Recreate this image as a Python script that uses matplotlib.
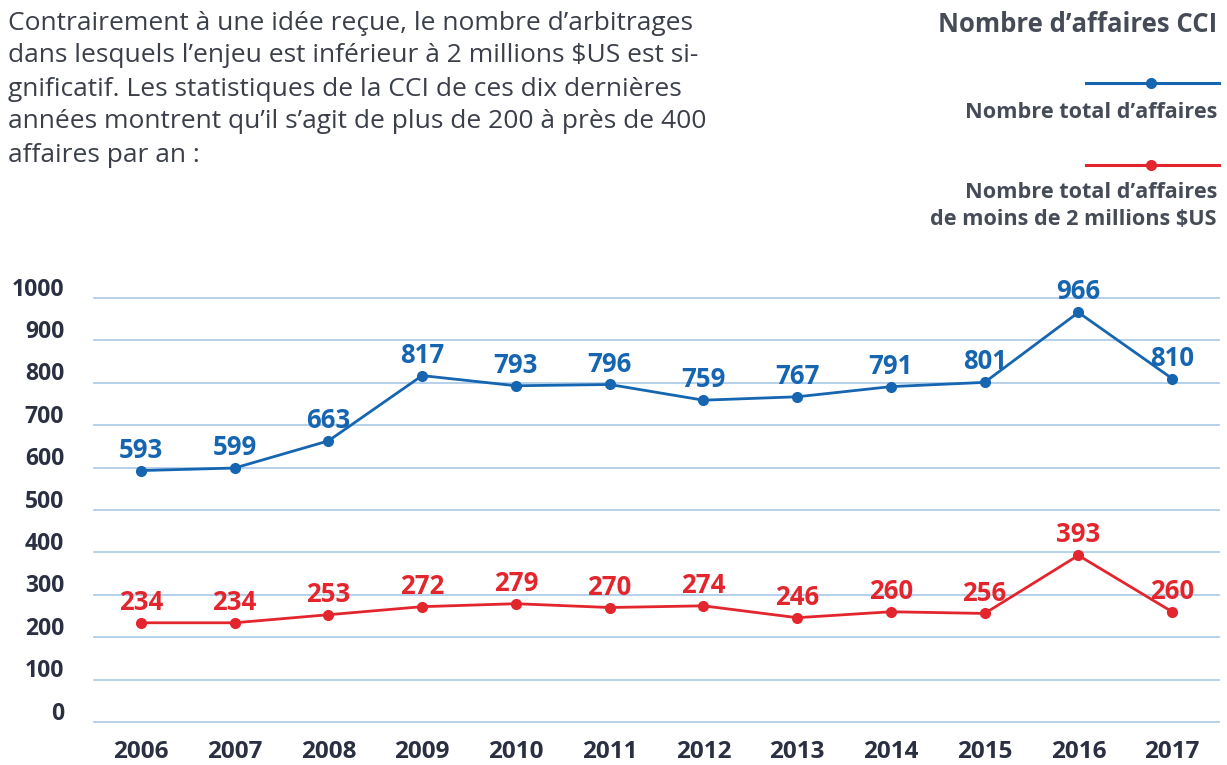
import matplotlib.pyplot as plt
from matplotlib.lines import Line2D
from matplotlib.transforms import blended_transform_factory

# data
years = ['2006', '2007', '2008', '2009', '2010', '2011', '2012', '2013', '2014', '2015', '2016', '2017']
total_cases = [593, 599, 663, 817, 793, 796, 759, 767, 791, 801, 966, 810]
small_cases = [234, 234, 253, 272, 279, 270, 274, 246, 260, 256, 393, 260]
y_ticks = [0, 100, 200, 300, 400, 500, 600, 700, 800, 900, 1000]

intro_lines = [
    "Contrairement à une idée reçue, le nombre d’arbitrages",
    "dans lesquels l’enjeu est inférieur à 2 millions $US est si-",
    "gnificatif. Les statistiques de la CCI de ces dix dernières",
    "années montrent qu’il s’agit de plus de 200 à près de 400",
    "affaires par an :",
]
legend_title = "Nombre d’affaires CCI"
legend_total = "Nombre total d’affaires"
legend_small = "Nombre total d’affaires\nde moins de 2 millions $US"

BLUE = '#1565b0'
RED = '#e3262d'
GRID = '#a9c8e6'
DARK = '#2a3042'
GREY = '#454b57'

plt.rcParams['font.family'] = ['Open Sans', 'DejaVu Sans']

W, H = 1227, 765
fig = plt.figure(figsize=(W / 100, H / 100), dpi=100)
fig.patch.set_facecolor('white')

ax = fig.add_axes([94 / W, 43 / H, 1125 / W, (722 - 298) / H])
x = list(range(len(years)))
ax.set_xlim(-0.5, len(years) - 0.5)
ax.set_ylim(0, 1000)

for v in y_ticks:
    ax.axhline(v, color=GRID, lw=1.2, zorder=1, clip_on=False)

ax.plot(x, total_cases, color=BLUE, lw=2, marker='o', ms=7, zorder=3, clip_on=False)
ax.plot(x, small_cases, color=RED, lw=2, marker='o', ms=7, zorder=3, clip_on=False)

for xi, v in zip(x, total_cases):
    ax.annotate(str(v), (xi, v), xytext=(0, 5), textcoords='offset points',
                ha='center', va='bottom', fontsize=18.5, fontweight='bold', color=BLUE)
for xi, v in zip(x, small_cases):
    ax.annotate(str(v), (xi, v), xytext=(0, 5), textcoords='offset points',
                ha='center', va='bottom', fontsize=18.5, fontweight='bold', color=RED)

ax.set_xticks([])
ax.set_yticks([])
for s in ax.spines.values():
    s.set_visible(False)

trans = blended_transform_factory(ax.transAxes, ax.transData)
for v in y_ticks:
    ax.text(-30 / 1125, v + 20, str(v), transform=trans, ha='right', va='center',
            fontsize=16.5, fontweight='bold', color=DARK)

trans_x = blended_transform_factory(ax.transData, fig.transFigure)
for xi, yr in zip(x, years):
    ax.text(xi, 1 - 752 / H, yr, transform=trans_x, ha='center', va='center',
            fontsize=17.5, fontweight='bold', color=DARK)

# intro paragraph
for i, line in enumerate(intro_lines):
    fig.text(8 / W, 1 - (23 + i * 33) / H, line, ha='left', va='center',
             fontsize=19, color='#3a3f4a')

# legend block, top right
fig.text(1217 / W, 1 - 25 / H, legend_title, ha='right', va='center',
         fontsize=18.5, fontweight='bold', color=GREY)
fig.add_artist(Line2D([1086 / W, 1219 / W], [1 - 83 / H] * 2, color=BLUE, lw=2.2))
fig.add_artist(Line2D([1151 / W], [1 - 83 / H], color=BLUE, marker='o', ms=7))
fig.text(1217 / W, 1 - 112 / H, legend_total, ha='right', va='center',
         fontsize=15.6, fontweight='bold', color=GREY)
fig.add_artist(Line2D([1086 / W, 1219 / W], [1 - 165 / H] * 2, color=RED, lw=2.2))
fig.add_artist(Line2D([1151 / W], [1 - 165 / H], color=RED, marker='o', ms=7))
fig.text(1217 / W, 1 - 206 / H, legend_small, ha='right', va='center',
         fontsize=15.6, fontweight='bold', color=GREY, linespacing=1.4, multialignment='right')

fig.savefig('out.png', dpi=100, facecolor='white')
